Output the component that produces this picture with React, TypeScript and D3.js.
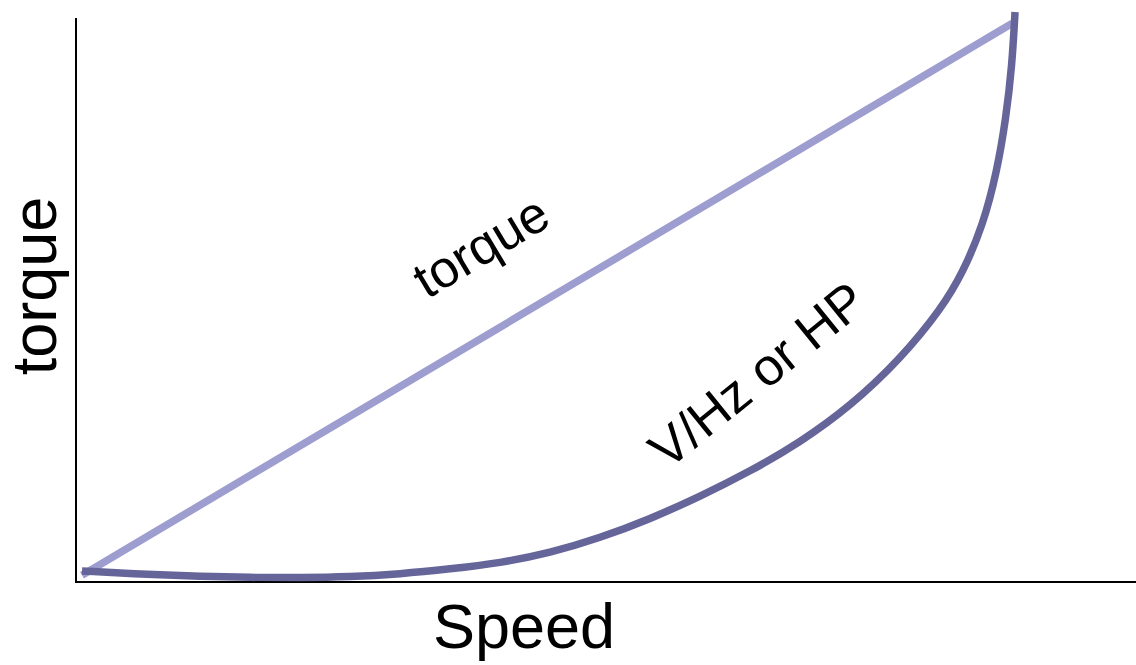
import React from "react"
import * as d3 from "d3"

// speed (0-100) vs relative value (0-100)
const torqueSpeed = [0, 99.5]
const torqueValue = [0.5, 98]

const hpSpeed = [
  0, 7.27, 12.62, 17.97, 23.32, 28.66, 34.01, 39.36, 44.71, 50.05, 55.4, 60.75,
  66.1, 71.44, 76.79, 82.14, 87.49, 91.98, 94.22, 96.36, 97.86, 98.82, 99.47, 99.79,
]
const hpValue = [
  1.24, 0.62, 0.27, 0.09, 0.05, 0.18, 0.71, 1.59, 2.65, 4.42, 7.07, 10.42,
  14.4, 18.82, 23.94, 30.3, 38.6, 47.7, 54.01, 62.31, 71.86, 81.24, 90.57, 100,
]

const xLabel = "Speed"
const yLabel = "torque"
const torqueLabel = "torque"
const hpLabel = "V/Hz or HP"

const width = 1136
const height = 665

const App = () => {
  const x = d3.scaleLinear().domain([0, 100]).range([82, 1017])
  const y = d3.scaleLinear().domain([0, 100]).range([578, 12])

  const line = d3
    .line<[number, number]>()
    .x((d) => x(d[0]))
    .y((d) => y(d[1]))
  const curve = d3
    .line<[number, number]>()
    .x((d) => x(d[0]))
    .y((d) => y(d[1]))
    .curve(d3.curveBasis)

  const font = "'Liberation Sans', Arial, Helvetica, sans-serif"

  return (
    <svg
      width={width}
      height={height}
      style={{ position: "absolute", left: 0, top: 0 }}
      fontFamily={font}
    >
      <line x1={76} y1={18} x2={76} y2={582} stroke="#000" strokeWidth={2} />
      <line x1={75} y1={582} x2={1136} y2={582} stroke="#000" strokeWidth={2} />
      <path
        fill="none"
        stroke="#9e9dcf"
        strokeWidth={7.5}
        d={line(d3.zip(torqueSpeed, torqueValue) as [number, number][]) || ""}
      />
      <path
        fill="none"
        stroke="#66659a"
        strokeWidth={7.5}
        d={curve(d3.zip(hpSpeed, hpValue) as [number, number][]) || ""}
      />
      <text x={524} y={648} fontSize={63} textAnchor="middle">
        {xLabel}
      </text>
      <text
        transform="translate(56,286) rotate(-90)"
        fontSize={63}
        textAnchor="middle"
      >
        {yLabel}
      </text>
      <text
        transform="translate(483,250) rotate(-31)"
        fontSize={52}
        textAnchor="middle"
        dominantBaseline="middle"
      >
        {torqueLabel}
      </text>
      <text
        transform="translate(760,378) rotate(-39)"
        fontSize={52}
        textAnchor="middle"
        dominantBaseline="middle"
      >
        {hpLabel}
      </text>
    </svg>
  )
}

export default App
